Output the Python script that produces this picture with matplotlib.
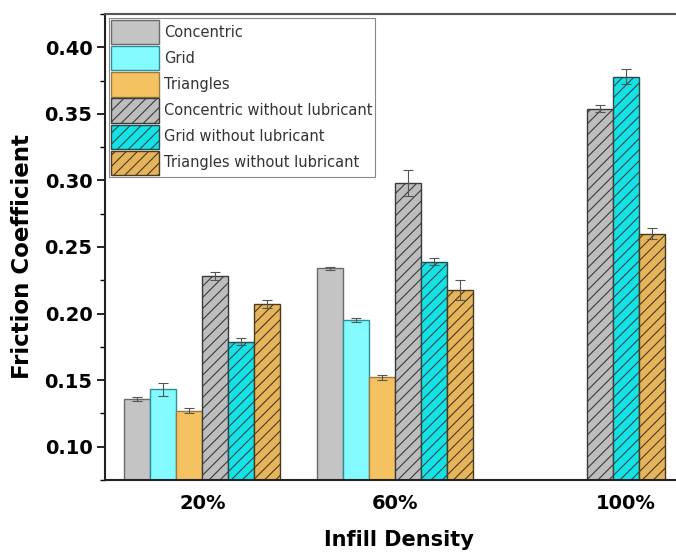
import numpy as np
import matplotlib
matplotlib.use("Agg")
import matplotlib.pyplot as plt
from matplotlib.ticker import MultipleLocator

categories = ['20%', '60%', '100%']
group_pos = [0.0, 1.0, 2.2]

series = ['Concentric', 'Grid', 'Triangles', 'Concentric without lubricant',
          'Grid without lubricant', 'Triangles without lubricant']

concentric = [0.136, 0.234, np.nan]
grid = [0.143, 0.195, np.nan]
triangles = [0.127, 0.152, np.nan]
concentric_nl = [0.228, 0.298, 0.354]
grid_nl = [0.179, 0.239, 0.378]
triangles_nl = [0.207, 0.218, 0.260]

concentric_err = [0.0015, 0.0013, np.nan]
grid_err = [0.005, 0.0013, np.nan]
triangles_err = [0.002, 0.002, np.nan]
concentric_nl_err = [0.003, 0.0095, 0.0025]
grid_nl_err = [0.0025, 0.0025, 0.0058]
triangles_nl_err = [0.003, 0.0075, 0.004]

values = [concentric, grid, triangles, concentric_nl, grid_nl, triangles_nl]
errors = [concentric_err, grid_err, triangles_err, concentric_nl_err, grid_nl_err, triangles_nl_err]

fills = ['#c4c4c4', '#82faff', '#f4c260', '#bdbdbd', '#14e2e6', '#e6b45a']
edges = ['#6a6a6a', '#2f8f95', '#9a7a40', '#3a3a3a', '#2a4a4a', '#4a3a20']
hatches = [None, None, None, '///', '///', '///']

plt.rcParams['hatch.linewidth'] = 0.8

fig = plt.figure(figsize=(6.76, 5.56), dpi=100)
ax = fig.add_axes([105 / 676, 76 / 556, 588 / 676, 466 / 556])

width = 0.135
vals = np.array(values, dtype=float)
errs = np.array(errors, dtype=float)

for i, name in enumerate(series):
    xs = []
    for g, gx in enumerate(group_pos):
        # bars in a group are centred on the group position, skipping missing series
        present = [k for k in range(len(series)) if not np.isnan(vals[k, g])]
        if i in present:
            j = present.index(i)
            xs.append(gx + (j - (len(present) - 1) / 2) * width)
        else:
            xs.append(np.nan)
    xs = np.array(xs)
    ok = ~np.isnan(vals[i])
    ax.bar(xs[ok], vals[i][ok], width=width, color=fills[i], edgecolor=edges[i],
           linewidth=1.0, hatch=hatches[i], label=name, zorder=2,
           yerr=errs[i][ok], capsize=3.5,
           error_kw=dict(ecolor='#555555', elinewidth=0.8, capthick=0.8))

ax.set_xlim(-0.506, 2.548)
ax.set_ylim(0.075, 0.425)
ax.set_xticks(group_pos)
ax.set_xticklabels(categories)
ax.yaxis.set_major_locator(MultipleLocator(0.05))
ax.yaxis.set_minor_locator(MultipleLocator(0.025))
ax.yaxis.set_major_formatter(plt.FormatStrFormatter('%.2f'))

ax.tick_params(axis='y', which='major', direction='out', length=6, width=1.2, labelsize=14, pad=3)
ax.tick_params(axis='y', which='minor', direction='out', length=3.5, width=1.0)
ax.tick_params(axis='x', length=0, labelsize=14, pad=10)
for lab in ax.get_xticklabels() + ax.get_yticklabels():
    lab.set_fontweight('bold')

for side in ['left', 'bottom', 'top']:
    ax.spines[side].set_linewidth(1.5)
    ax.spines[side].set_color('#222222')
ax.spines['top'].set_color('#555555')
ax.spines['right'].set_visible(False)

ax.set_ylabel('Friction Coefficient', fontsize=16.5, fontweight='bold')
ax.yaxis.set_label_coords(-0.121, 0.48)
ax.set_xlabel('Infill Density', fontsize=15, fontweight='bold', labelpad=12)

leg = ax.legend(loc='upper left', bbox_to_anchor=(0.0, 1.0), fontsize=10.5,
                handlelength=3.3, handleheight=2.2, labelspacing=0.12,
                handletextpad=0.35, borderpad=0.15, borderaxespad=0.25,
                frameon=True, fancybox=False, framealpha=1.0)
leg.get_frame().set_edgecolor('#888888')
leg.get_frame().set_linewidth(0.8)
for t in leg.get_texts():
    t.set_color('#333333')

fig.savefig('out.png', dpi=100)
